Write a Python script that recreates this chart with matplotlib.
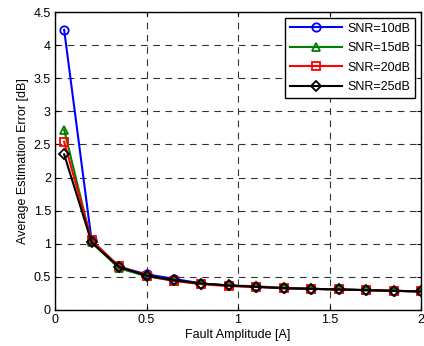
import matplotlib
matplotlib.use("Agg")
import matplotlib.pyplot as plt

plt.rcParams['font.family'] = ['Liberation Sans', 'DejaVu Sans']

fault_amp = [0.05, 0.2, 0.35, 0.5, 0.65, 0.8, 0.95, 1.1, 1.25, 1.4, 1.55, 1.7, 1.85, 2.0]
snr10 = [4.23, 1.05, 0.65, 0.54, 0.47, 0.40, 0.37, 0.35, 0.33, 0.32, 0.31, 0.30, 0.29, 0.28]
snr15 = [2.72, 1.02, 0.63, 0.51, 0.44, 0.40, 0.37, 0.36, 0.33, 0.32, 0.31, 0.30, 0.29, 0.28]
snr20 = [2.54, 1.05, 0.66, 0.52, 0.44, 0.39, 0.36, 0.35, 0.33, 0.32, 0.31, 0.30, 0.29, 0.28]
snr25 = [2.35, 1.02, 0.65, 0.52, 0.45, 0.40, 0.37, 0.35, 0.33, 0.32, 0.31, 0.30, 0.29, 0.28]

fig = plt.figure(figsize=(4.24, 3.46), dpi=100)
ax = fig.add_axes([55/424, 1 - 310/346, 366/424, 298/346])

ax.plot(fault_amp, snr10, color='#0000ff', marker='o', lw=1.5, ms=6, mfc='none', mew=1.3, label='SNR=10dB')
ax.plot(fault_amp, snr15, color='#008000', marker='^', lw=1.5, ms=6, mfc='none', mew=1.3, label='SNR=15dB')
ax.plot(fault_amp, snr20, color='#ff0000', marker='s', lw=1.5, ms=6, mfc='none', mew=1.3, label='SNR=20dB')
ax.plot(fault_amp, snr25, color='#000000', marker='D', lw=1.5, ms=5, mfc='none', mew=1.3, label='SNR=25dB')

ax.set_xlim(0, 2)
ax.set_ylim(0, 4.5)
ax.set_xticks([0, 0.5, 1, 1.5, 2])
ax.set_xticklabels(['0', '0.5', '1', '1.5', '2'])
ax.set_yticks([0, 0.5, 1, 1.5, 2, 2.5, 3, 3.5, 4, 4.5])
ax.set_yticklabels(['0', '0.5', '1', '1.5', '2', '2.5', '3', '3.5', '4', '4.5'])
ax.tick_params(direction='in', labelsize=9, length=3, top=True, right=True, pad=3)
ax.grid(True, color='0.2', linestyle=(0, (6, 5)), lw=0.8)
for s in ax.spines.values():
    s.set_linewidth(1.0)

ax.set_xlabel('Fault Amplitude [A]', fontsize=9, labelpad=2)
ax.set_ylabel('Average Estimation Error [dB]', fontsize=9, labelpad=3)

leg = ax.legend(loc='upper right', fontsize=9, fancybox=False, framealpha=1,
                edgecolor='black', handlelength=4.2, borderaxespad=0.45,
                labelspacing=0.6, handletextpad=0.4, borderpad=0.4)
leg.get_frame().set_linewidth(1.0)

fig.savefig('out.png', dpi=100)
